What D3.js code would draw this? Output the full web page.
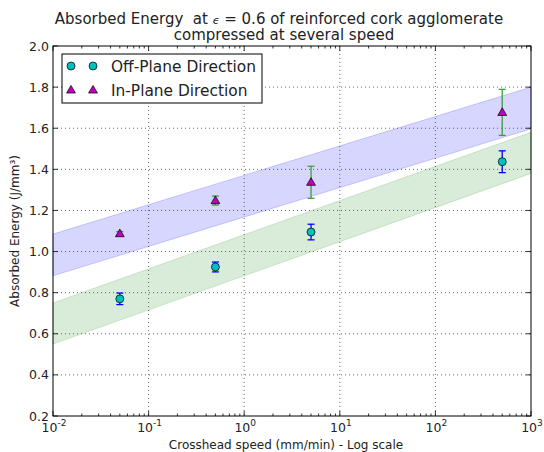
<!DOCTYPE html>
<html><head><meta charset="utf-8">
<script src="https://cdn.jsdelivr.net/npm/d3@7"></script>
<style>body{margin:0;background:#fff}svg{display:block;font-family:"DejaVu Sans",sans-serif}</style>
</head><body><svg id="c" width="544" height="452"></svg>
<script>
const speeds = [0.05, 0.5, 5, 500];
const offPlane = [0.77, 0.925, 1.095, 1.437];
const offPlaneErr = [0.028, 0.024, 0.038, 0.053];
const inPlane = [1.087, 1.248, 1.337, 1.677];
const inPlaneErr = [0.01, 0.022, 0.078, 0.112];
const bandX = [0.01, 1000];
const blueUpper = [1.085, 1.80];
const blueLower = [0.882, 1.597];
const greenUpper = [0.75, 1.58];
const greenLower = [0.55, 1.38];
const xTicks = [0.01, 0.1, 1, 10, 100, 1000];
const xTickExp = ["-2", "-1", "0", "1", "2", "3"];
const yTicks = [0.2, 0.4, 0.6, 0.8, 1.0, 1.2, 1.4, 1.6, 1.8, 2.0];

const L = 53, R = 531, T = 46, B = 416;
const svg = d3.select("#c");
const x = d3.scaleLog().domain([0.01, 1000]).range([L, R]);
const y = d3.scaleLinear().domain([0.2, 2.0]).range([B, T]);

// grid
const g = svg.append("g");
g.selectAll(".gx").data(xTicks.slice(1, -1)).enter().append("line")
  .attr("x1", d => x(d)).attr("x2", d => x(d)).attr("y1", T).attr("y2", B)
  .attr("stroke", "#000").attr("stroke-width", 0.6).attr("stroke-dasharray", "1,3");
g.selectAll(".gy").data(yTicks.slice(1, -1)).enter().append("line")
  .attr("y1", d => y(d)).attr("y2", d => y(d)).attr("x1", L).attr("x2", R)
  .attr("stroke", "#000").attr("stroke-width", 0.6).attr("stroke-dasharray", "1,3");

// bands
function band(up, lo, fill, edge) {
  const pts = bandX.map((v, i) => ({x: v, u: up[i], l: lo[i]}));
  const area = d3.area().x(d => x(d.x)).y0(d => y(d.l)).y1(d => y(d.u));
  svg.append("path").datum(pts).attr("d", area).attr("fill", fill).attr("stroke", edge).attr("stroke-width", 0.8);
}
band(blueUpper, blueLower, "rgba(0,0,255,0.16)", "rgba(0,0,255,0.22)");
band(greenUpper, greenLower, "rgba(0,128,0,0.15)", "rgba(0,128,0,0.2)");

// error bars
function errbars(vals, errs, color) {
  const eg = svg.append("g").attr("stroke", color).attr("stroke-width", 1.3);
  speeds.forEach((s, i) => {
    const cx = x(s), y1 = y(vals[i] - errs[i]), y2 = y(vals[i] + errs[i]);
    eg.append("line").attr("x1", cx).attr("x2", cx).attr("y1", y1).attr("y2", y2);
    eg.append("line").attr("x1", cx - 3.5).attr("x2", cx + 3.5).attr("y1", y1).attr("y2", y1);
    eg.append("line").attr("x1", cx - 3.5).attr("x2", cx + 3.5).attr("y1", y2).attr("y2", y2);
  });
}
errbars(offPlane, offPlaneErr, "#0000ff");
errbars(inPlane, inPlaneErr, "#3c9e3c");

const tri = d3.symbol().type(d3.symbolTriangle).size(34);
svg.selectAll(".op").data(speeds).enter().append("circle")
  .attr("cx", d => x(d)).attr("cy", (d, i) => y(offPlane[i])).attr("r", 4)
  .attr("fill", "#00bfbf").attr("stroke", "#000").attr("stroke-width", 0.7);
svg.selectAll(".ip").data(speeds).enter().append("path")
  .attr("d", tri).attr("transform", (d, i) => `translate(${x(d)},${y(inPlane[i]) + 0.5})`)
  .attr("fill", "#bf00bf").attr("stroke", "#000").attr("stroke-width", 0.7);

// frame
svg.append("rect").attr("x", L).attr("y", T).attr("width", R - L).attr("height", B - T)
  .attr("fill", "none").attr("stroke", "#000").attr("stroke-width", 1);

// ticks
const tk = svg.append("g").attr("stroke", "#000").attr("stroke-width", 0.8);
xTicks.forEach(v => {
  tk.append("line").attr("x1", x(v)).attr("x2", x(v)).attr("y1", B).attr("y2", B - 5);
  tk.append("line").attr("x1", x(v)).attr("x2", x(v)).attr("y1", T).attr("y2", T + 5);
});
for (let e = -2; e < 3; e++) for (let m = 2; m < 10; m++) {
  const v = m * Math.pow(10, e);
  tk.append("line").attr("x1", x(v)).attr("x2", x(v)).attr("y1", B).attr("y2", B - 2.5);
  tk.append("line").attr("x1", x(v)).attr("x2", x(v)).attr("y1", T).attr("y2", T + 2.5);
}
yTicks.forEach(v => {
  tk.append("line").attr("y1", y(v)).attr("y2", y(v)).attr("x1", L).attr("x2", L + 5);
  tk.append("line").attr("y1", y(v)).attr("y2", y(v)).attr("x1", R).attr("x2", R - 5);
});

// tick labels
svg.selectAll(".yl").data(yTicks).enter().append("text")
  .attr("x", L - 4).attr("y", d => y(d) + 4.5).attr("text-anchor", "end")
  .attr("font-size", 12.5).attr("fill", "#222").text(d => d.toFixed(1));
xTicks.forEach((v, i) => {
  const t = svg.append("text").attr("x", x(v) + 1).attr("y", B + 16).attr("text-anchor", "middle")
    .attr("font-size", 12.5).attr("fill", "#222");
  t.append("tspan").text("10");
  t.append("tspan").attr("dy", -6).attr("font-size", 9).text(xTickExp[i]);
});

// axis labels
svg.append("text").attr("x", (L + R) / 2 - 6).attr("y", 449).attr("text-anchor", "middle")
  .attr("font-size", 12).attr("fill", "#222").text("Crosshead speed (mm/min) - Log scale");
svg.append("text").attr("transform", `translate(19,${(T + B) / 2}) rotate(-90)`)
  .attr("text-anchor", "middle").attr("font-size", 12).attr("fill", "#222").text("Absorbed Energy (J/mm³)");

// title
const t1 = svg.append("text").attr("x", 279).attr("y", 24).attr("text-anchor", "middle")
  .attr("font-size", 15).attr("fill", "#222").attr("xml:space", "preserve").style("white-space", "pre");
t1.append("tspan").text("Absorbed Energy\u00a0 at ");
t1.append("tspan").attr("font-style", "italic").attr("font-size", 11).text("ϵ");
t1.append("tspan").text(" = 0.6 of reinforced cork agglomerate");
svg.append("text").attr("x", 284).attr("y", 40).attr("text-anchor", "middle")
  .attr("font-size", 15).attr("fill", "#222").text("compressed at several speed");

// legend
const lg = svg.append("g");
lg.append("rect").attr("x", 62).attr("y", 54).attr("width", 200).attr("height", 49)
  .attr("fill", "#fff").attr("stroke", "#000").attr("stroke-width", 1);
[71, 93].forEach(px => {
  lg.append("circle").attr("cx", px).attr("cy", 66).attr("r", 4)
    .attr("fill", "#00bfbf").attr("stroke", "#000").attr("stroke-width", 0.7);
  lg.append("path").attr("d", tri).attr("transform", `translate(${px},90.5)`)
    .attr("fill", "#bf00bf").attr("stroke", "#000").attr("stroke-width", 0.7);
});
lg.append("text").attr("x", 111).attr("y", 71.5).attr("font-size", 15.4).attr("fill", "#222").text("Off-Plane Direction");
lg.append("text").attr("x", 111).attr("y", 95.5).attr("font-size", 15.4).attr("fill", "#222").text("In-Plane Direction");
</script></body></html>
